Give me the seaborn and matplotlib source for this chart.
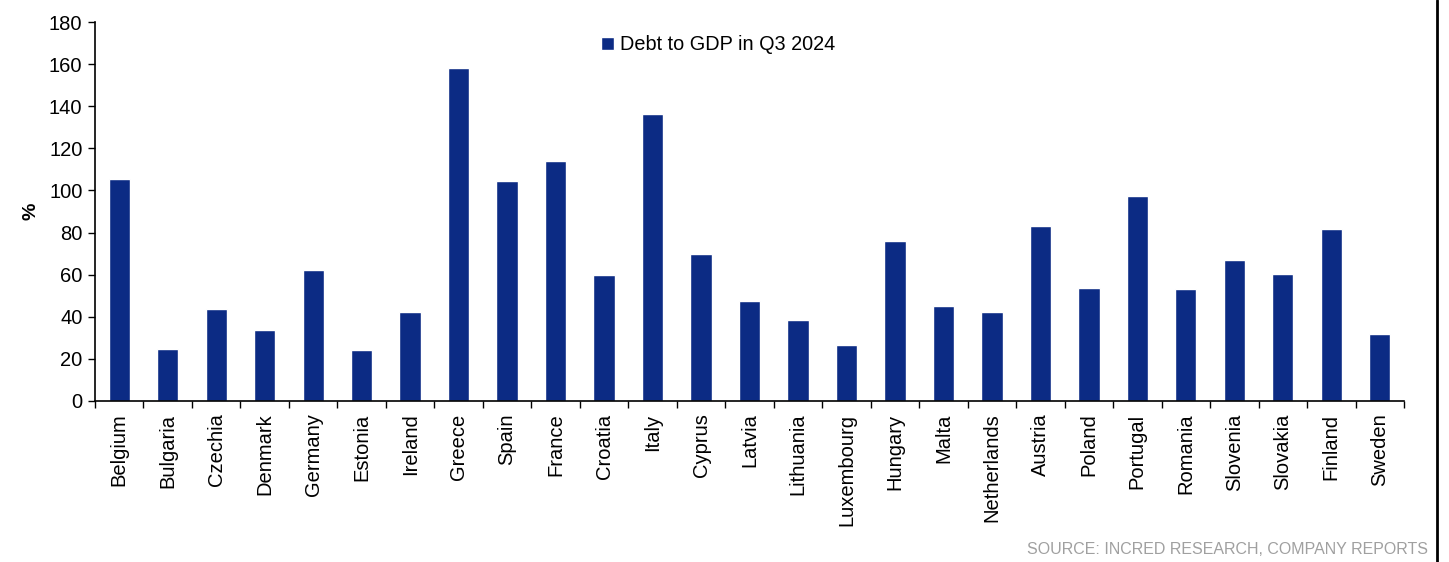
import matplotlib
matplotlib.use("Agg")
import matplotlib.pyplot as plt
import seaborn as sns
import pandas as pd
import numpy as np
from matplotlib.lines import Line2D

countries = ["Belgium", "Bulgaria", "Czechia", "Denmark", "Germany", "Estonia", "Ireland",
             "Greece", "Spain", "France", "Croatia", "Italy", "Cyprus", "Latvia", "Lithuania",
             "Luxembourg", "Hungary", "Malta", "Netherlands", "Austria", "Poland", "Portugal",
             "Romania", "Slovenia", "Slovakia", "Finland", "Sweden"]
debt_to_gdp = [105.4, 24.7, 43.7, 33.7, 62.2, 24.2, 42.3, 158.1, 104.5, 114.0, 59.8, 136.3,
               69.8, 47.5, 38.5, 26.6, 76.0, 45.1, 42.3, 83.1, 53.7, 97.3, 53.2, 67.0, 60.3,
               81.7, 31.8]
yticks = [0, 20, 40, 60, 80, 100, 120, 140, 160, 180]
series_name = "Debt to GDP in Q3 2024"

sns.set_style("white")
plt.rcParams['font.family'] = ['Liberation Sans', 'DejaVu Sans']
plt.rcParams['text.color'] = 'black'
plt.rcParams['xtick.color'] = 'black'
plt.rcParams['ytick.color'] = 'black'
plt.rcParams['axes.labelcolor'] = 'black'

df = pd.DataFrame({"country": countries, "value": debt_to_gdp})

fig = plt.figure(figsize=(14.49, 5.62), dpi=100)
ax = fig.add_axes([95/1449, 1 - 401/562, (1404-95)/1449, (401-22)/562])

bar_color = "#0c2b84"
sns.barplot(data=df, x="country", y="value", color=bar_color, width=0.44,
            ax=ax, saturation=1, label=series_name)

ax.set_ylim(0, 180)
ax.set_xlim(-0.5, len(countries) - 0.5)
ax.set_yticks(yticks)
ax.set_yticklabels([str(t) for t in yticks], fontsize=14.5)
ax.set_xticks(range(len(countries)))
ax.set_xticklabels(countries, rotation=90, fontsize=14.5)
ax.set_xticks(np.arange(-0.5, len(countries), 1.0), minor=True)
ax.tick_params(axis="x", which="major", length=0, pad=9)
ax.tick_params(axis="x", which="minor", length=5, width=1, color="black", direction="out", bottom=True)
ax.tick_params(axis="y", which="major", length=5, width=1, color="black", direction="out", left=True, pad=4)
ax.set_xlabel("")
ax.set_ylabel("%", fontsize=14, fontweight="bold", labelpad=7)

for s in ["top", "right"]:
    ax.spines[s].set_visible(False)
for s in ["left", "bottom"]:
    ax.spines[s].set_color("black")
    ax.spines[s].set_linewidth(1.2)

ax.legend(loc="upper center", bbox_to_anchor=(0.476, 1.012), frameon=False, fontsize=14.3,
          handlelength=0.65, handleheight=0.65, handletextpad=0.3)

fig.text(1428/1449, 1 - 550/562, "SOURCE: INCRED RESEARCH, COMPANY REPORTS",
         ha="right", va="center", fontsize=11.5, color="#a0a0a0")

fig.add_artist(Line2D([1437/1449, 1437/1449], [0, 1], transform=fig.transFigure,
                      color="black", linewidth=2))

fig.savefig("out.png", dpi=100)
